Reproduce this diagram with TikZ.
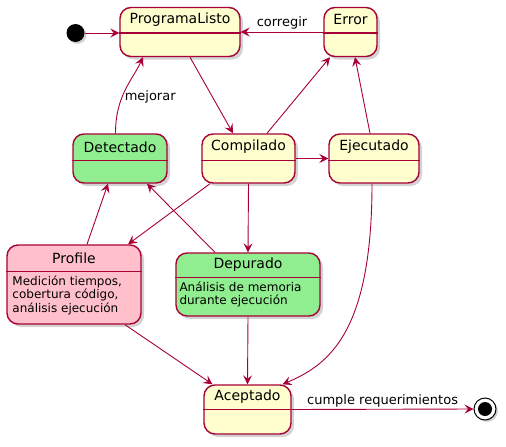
\documentclass[tikz,border=0pt]{standalone}
\usepackage{fontspec}
\setmainfont{DejaVu Sans}
\usetikzlibrary{arrows.meta,shadows}
\definecolor{borde}{HTML}{A80036}
\definecolor{crema}{HTML}{FEFECE}
\definecolor{verde}{HTML}{90EE90}
\definecolor{rosa}{HTML}{FFC0CB}
\begin{document}
\begin{tikzpicture}[x=1pt,y=-1pt]

      \tikzset{estado/.style={draw=borde, line width=1.4pt, fill=crema, rounded corners=11pt, inner sep=0pt,
                 drop shadow={shadow xshift=3pt, shadow yshift=-3pt, opacity=0.35}},
               titulo/.style={inner sep=0pt, font=\fontsize{14}{16}\selectfont},
               desc/.style={inner sep=0pt, align=left, font=\fontsize{12}{13.5}\selectfont},
               etiqueta/.style={inner sep=2pt, font=\fontsize{13}{15}\selectfont},
               flecha/.style={draw=borde, line width=0.9pt, -{Stealth[length=9pt, width=9pt, inset=3.5pt]}}}
      \useasboundingbox (0,0) rectangle (506,447);
%% Estados
      	\node[circle, fill=black, minimum size=18pt, inner sep=0pt,
      	      drop shadow={shadow xshift=2pt, shadow yshift=-2pt, opacity=0.35}] (inicio) at (75.5,33) {};
      	\node[estado, minimum width=120pt, minimum height=49pt] (listo) at (180,32) {};
      	\node[estado, minimum width=53pt, minimum height=49pt] (error) at (350.5,32) {};
      	\node[estado, fill=verde, minimum width=94pt, minimum height=49pt] (detectado) at (120,158.5) {};
      	\node[estado, minimum width=93pt, minimum height=49pt] (compilado) at (248.5,158.5) {};
      	\node[estado, minimum width=90pt, minimum height=49pt] (ejecutado) at (374,158.5) {};
      	\node[estado, fill=rosa, minimum width=134pt, minimum height=79pt] (profile) at (74,284.5) {};
      	\node[estado, fill=verde, minimum width=144pt, minimum height=63pt] (depurado) at (248,284.5) {};
      	\node[estado, minimum width=87pt, minimum height=49pt] (aceptado) at (247.5,409.5) {};
      	\node[circle, draw=black, line width=1pt, fill=white, minimum size=22pt, inner sep=0pt,
      	      drop shadow={shadow xshift=2pt, shadow yshift=-2pt, opacity=0.35},
      	      path picture={\fill[black] (path picture bounding box.center) circle (7pt);}] (fin) at (485,409) {};
%% Divisiones
		\foreach \n/\d in {listo/26, error/26, detectado/27, compilado/27, ejecutado/27, profile/27, depurado/25, aceptado/25}
			\draw[borde, line width=1.4pt] ([yshift=-\d pt]\n.north west) -- ([yshift=-\d pt]\n.north east);
%% Nombres
		\node[titulo] (tlisto) at ([yshift=-13pt]listo.north) {ProgramaListo};
		\node[titulo] (terror) at ([yshift=-13pt]error.north) {Error};
		\node[titulo] (tdetectado) at ([yshift=-13.5pt]detectado.north) {Detectado};
		\node[titulo] (tcompilado) at ([yshift=-13.5pt]compilado.north) {Compilado};
		\node[titulo] (tejecutado) at ([yshift=-13.5pt]ejecutado.north) {Ejecutado};
		\node[titulo] (tprofile) at ([yshift=-13.5pt]profile.north) {Profile};
		\node[titulo] (tdepurado) at ([yshift=-12.5pt]depurado.north) {Depurado};
		\node[titulo] (taceptado) at ([yshift=-12.5pt]aceptado.north) {Aceptado};
		\node[desc, anchor=north west] (dprofile) at ([xshift=6pt, yshift=-31pt]profile.north west)
			{Medición tiempos,\\cobertura código,\\análisis ejecución};
		\node[desc, anchor=north west] (ddepurado) at ([xshift=4pt, yshift=-29pt]depurado.north west)
			{Análisis de memoria\\durante ejecución};
%% Transiciones
		\draw[flecha] (inicio.east) -- (inicio.east -| listo.west);
		\draw[flecha] (error.west) -- node[etiqueta, above] {corregir} (listo.east);
		\draw[flecha] ([xshift=-4.5pt]detectado.north) .. controls +(0,-38) and +(-10,22) ..
			node[etiqueta, pos=0.4, right] {mejorar} ([xshift=-37pt]listo.south);
		\draw[flecha] ([xshift=10pt]listo.south) -- ([xshift=-15.5pt]compilado.north);
		\draw[flecha] ([xshift=18.5pt]compilado.north) -- ([xshift=-20.5pt]error.south);
		\draw[flecha] (compilado.east) -- (ejecutado.west);
		\draw[flecha] ([xshift=-4pt]ejecutado.north) -- ([xshift=4.5pt]error.south);
		\draw[flecha] ([xshift=-38.5pt]compilado.south) -- ([xshift=54pt]profile.north);
		\draw[flecha] (compilado.south) -- (depurado.north);
		\draw[flecha] ([xshift=-33pt]depurado.north) -- ([xshift=27pt]detectado.south);
		\draw[flecha] ([xshift=13pt]profile.north) -- ([xshift=-12pt]detectado.south);
		\draw[flecha] ([xshift=51pt]profile.south) -- ([xshift=-35pt]aceptado.north);
		\draw[flecha] (depurado.south) -- (aceptado.north);
		\draw[flecha] ([xshift=-2pt]ejecutado.south) .. controls +(0,147) and +(47.5,-20) .. ([xshift=35pt]aceptado.north);
		\draw[flecha] (aceptado.east) -- node[etiqueta, above] {cumple requerimientos} (fin.west);

	\end{tikzpicture}
\end{document}
